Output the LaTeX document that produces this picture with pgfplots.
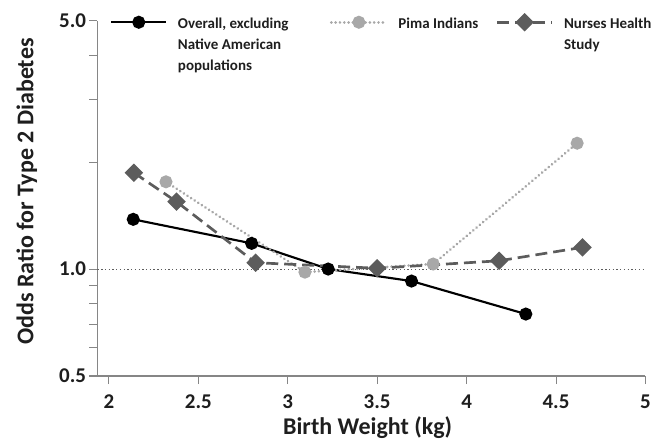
\documentclass[border=0pt]{standalone}
\usepackage{fontspec}
\setmainfont{Carlito}
\usepackage{pgfplots}
\pgfplotsset{compat=1.18}
\definecolor{pimagray}{RGB}{168,168,168}
\definecolor{nursegray}{RGB}{92,92,92}
\definecolor{axgray}{RGB}{134,134,134}
\definecolor{txt}{RGB}{30,30,30}
\begin{document}
\begin{tikzpicture}
\path[use as bounding box] (-73.1pt,-48pt) rectangle (424.9pt,282pt);
\begin{axis}[
  scale only axis, width=411pt, height=266.5pt,
  xmin=1.936, xmax=5, ymin=0.5, ymax=5, ymode=log,
  axis x line*=bottom, axis y line*=left,
  axis line style={axgray, line width=0.8pt, -},
  xtick={2,2.5,3,3.5,4,4.5,5},
  xticklabels={2,2.5,3,3.5,4,4.5,5},
  ytick={0.5,1,5}, yticklabels={0.5,1.0,5.0},
  minor ytick={0.6,0.7,0.8,0.9,2,3,4},
  tick align=outside,
  major tick length=6pt, minor tick length=6pt,
  every tick/.style={axgray, line width=0.8pt},
  ticklabel style={font=\fontsize{15.75}{18}\selectfont\bfseries, text=txt},
  yticklabel style={xshift=1pt},
  xticklabel style={yshift=-4.5pt},
  xlabel={Birth Weight (kg)}, ylabel={Odds Ratio for Type 2 Diabetes},
  label style={font=\fontsize{18}{21}\selectfont\bfseries, text=txt},
  xlabel style={at={(axis description cs:0.493,0)}, anchor=base, yshift=-43.5pt},
  ylabel style={at={(axis description cs:-0.129,0.519)}, anchor=center},
  legend columns=3,
  legend cell align=left,
  legend image code/.code={\draw[mark repeat=2,mark phase=2,#1] plot coordinates {(0pt,0pt) (20.6pt,0pt) (41.2pt,0pt)};},
  legend style={at={(axis description cs:0.0228,1.017)}, anchor=north west, draw=none, fill=none, inner sep=0pt,
    font=\fontsize{11.25}{16}\selectfont\bfseries, text=txt,
    cells={anchor=base west},
    /tikz/every odd column/.append style={column sep=6pt},
    /tikz/every even column/.append style={column sep=6pt}},
]
\addplot[forget plot, nursegray, line width=0.8pt, dash pattern=on 1pt off 1.8pt] coordinates {(1.936,1) (5,1)};
\addplot[black, line width=1.6pt, mark=*, mark size=4.1pt, mark options={solid}] coordinates {(2.136,1.38) (2.798,1.181) (3.226,1.0) (3.692,0.925) (4.331,0.747)};
\addlegendentry{\raisebox{-4.5pt}{\parbox[t]{106pt}{Overall, excluding\\Native American\\populations}}}
\addplot[pimagray, line width=2.2pt, line cap=round, dash pattern=on 0.01pt off 3.2pt, mark=*, mark size=3.75pt, mark options={solid}] coordinates {(2.319,1.76) (3.096,0.98) (3.813,1.033) (4.618,2.26)};
\addlegendentry{\raisebox{-4.5pt}{\parbox[t]{65pt}{Pima Indians}}}
\addplot[nursegray, line width=2pt, dash pattern=on 9pt off 4.5pt, mark=square*, mark size=3.9pt, mark options={solid, rotate=45}] coordinates {(2.140,1.866) (2.378,1.547) (2.82,1.042) (3.50,1.005) (4.182,1.055) (4.648,1.151)};
\addlegendentry{\raisebox{-4.5pt}{\parbox[t]{70pt}{Nurses Health\\Study}}}
\end{axis}
\end{tikzpicture}
\end{document}
